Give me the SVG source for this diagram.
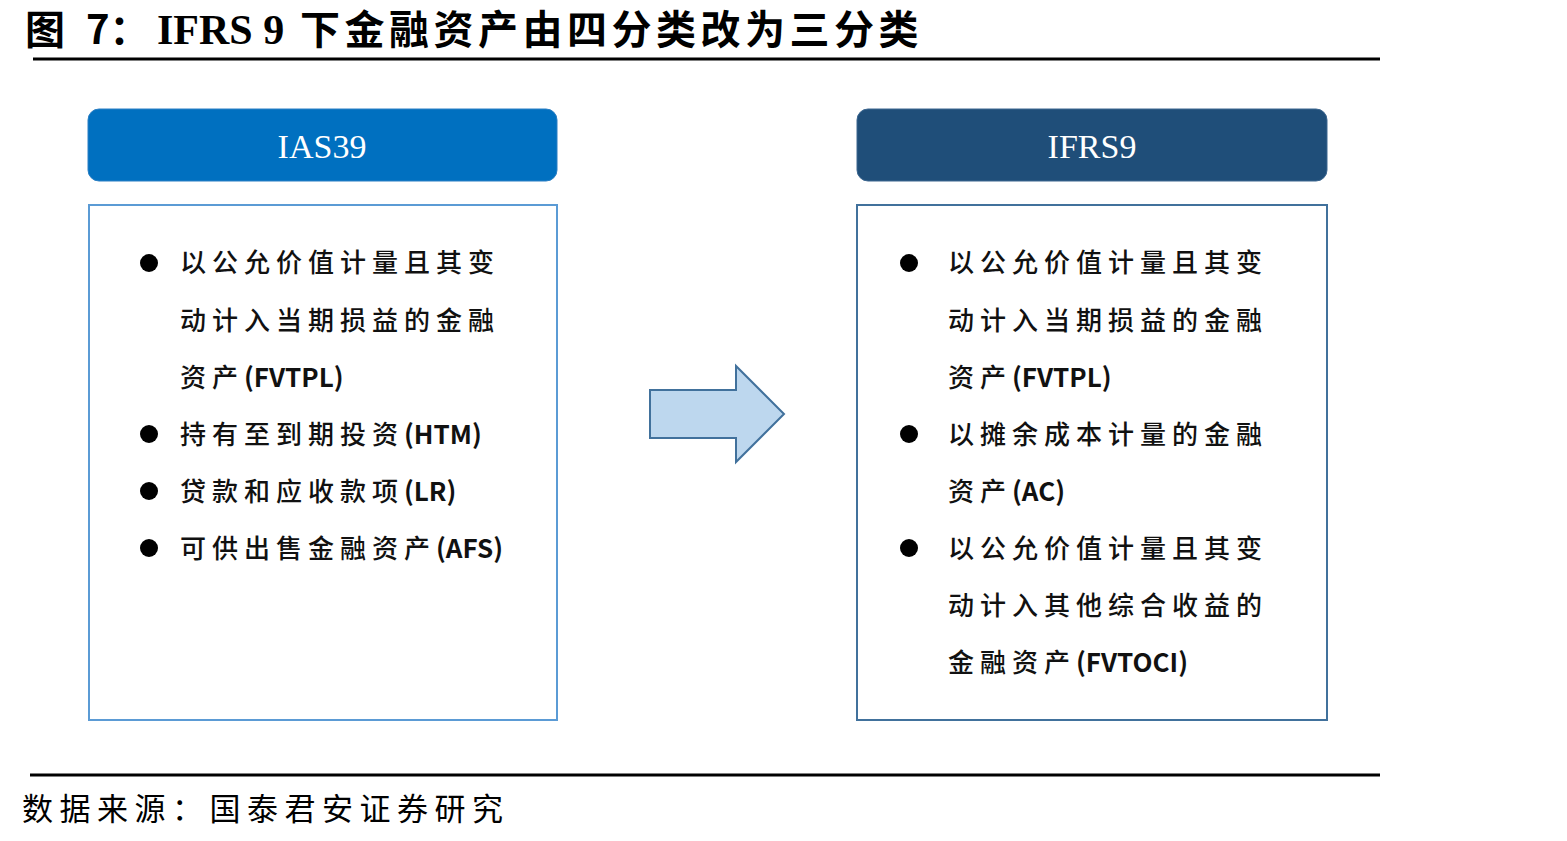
<svg xmlns="http://www.w3.org/2000/svg" width="1567" height="841" viewBox="0 0 1567 841">
<style>
.title{font-family:"Noto Sans CJK SC","Liberation Serif",serif;font-weight:bold;font-size:40px;fill:#000}
.titlelat{font-family:"Liberation Serif","Noto Sans CJK SC",serif;font-weight:bold;font-size:42px}
.hdr{font-family:"Liberation Serif",serif;font-size:34px;fill:#fff;text-anchor:middle}
.item{font-family:"Noto Sans CJK SC",sans-serif;font-weight:500;font-size:26px;fill:#111;letter-spacing:6px}
.lat{font-family:"Noto Sans CJK SC",sans-serif;font-weight:bold;letter-spacing:0px}
.src{font-family:"Noto Sans CJK SC",sans-serif;font-size:31px;fill:#000;letter-spacing:6.5px}
.rule{stroke:#000;stroke-width:3}
</style>
<rect width="1567" height="841" fill="#fff"/>
<text class="title" y="44"><tspan x="25">图</tspan><tspan x="86">7：</tspan><tspan class="titlelat" x="157">IFRS 9</tspan><tspan x="300" letter-spacing="4.5">下金融资产由四分类改为三分类</tspan></text>
<line class="rule" x1="33" y1="59" x2="1380" y2="59"/>

<g id="ias39-header">
<rect x="88" y="109" width="469" height="72" rx="11" fill="#0070C0" stroke="#2a7fc4" stroke-width="1"/>
<text class="hdr" x="322" y="158">IAS39</text>
</g>
<g id="ifrs9-header">
<rect x="857" y="109" width="470" height="72" rx="11" fill="#1F4E79" stroke="#3d6790" stroke-width="1"/>
<text class="hdr" x="1092" y="158">IFRS9</text>
</g>

<g id="ias39-box">
<rect x="89" y="205" width="468" height="515" fill="#fff" stroke="#5B9BD5" stroke-width="2"/>
<circle cx="149" cy="263" r="9"/>
<circle cx="149" cy="434" r="9"/>
<circle cx="149" cy="491" r="9"/>
<circle cx="149" cy="548" r="9"/>
<text class="item" x="180" y="272">以公允价值计量且其变</text>
<text class="item" x="180" y="330">动计入当期损益的金融</text>
<text class="item" x="180" y="387">资产<tspan class="lat">(FVTPL)</tspan></text>
<text class="item" x="180" y="444">持有至到期投资<tspan class="lat">(HTM)</tspan></text>
<text class="item" x="180" y="501">贷款和应收款项<tspan class="lat">(LR)</tspan></text>
<text class="item" x="180" y="558">可供出售金融资产<tspan class="lat">(AFS)</tspan></text>
</g>

<g id="ifrs9-box">
<rect x="857" y="205" width="470" height="515" fill="#fff" stroke="#41719C" stroke-width="2"/>
<circle cx="909" cy="263" r="9"/>
<circle cx="909" cy="434" r="9"/>
<circle cx="909" cy="548" r="9"/>
<text class="item" x="948" y="272">以公允价值计量且其变</text>
<text class="item" x="948" y="330">动计入当期损益的金融</text>
<text class="item" x="948" y="387">资产<tspan class="lat">(FVTPL)</tspan></text>
<text class="item" x="948" y="444">以摊余成本计量的金融</text>
<text class="item" x="948" y="501">资产<tspan class="lat">(AC)</tspan></text>
<text class="item" x="948" y="558">以公允价值计量且其变</text>
<text class="item" x="948" y="615">动计入其他综合收益的</text>
<text class="item" x="948" y="672">金融资产<tspan class="lat">(FVTOCI)</tspan></text>
</g>

<g id="connectors">
<path d="M650,390 L736,390 L736,366 L784,414 L736,462 L736,438 L650,438 Z" fill="#BDD7EE" stroke="#41719C" stroke-width="2" stroke-linejoin="miter"/>
</g>

<line class="rule" x1="30" y1="775" x2="1380" y2="775"/>
<text class="src" x="22" y="820">数据来源：国泰君安证券研究</text>
</svg>
